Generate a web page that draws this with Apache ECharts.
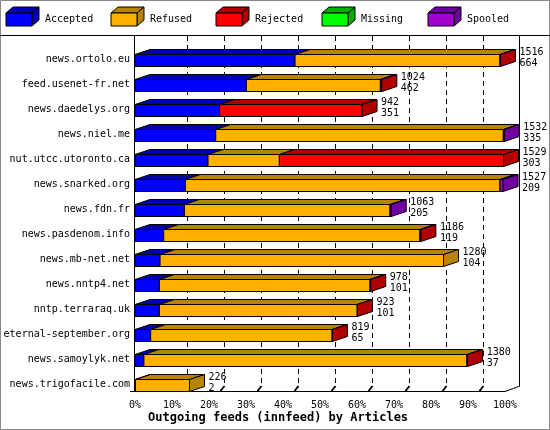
<!DOCTYPE html>
<html><head><meta charset="utf-8">
<script src="https://cdn.jsdelivr.net/npm/echarts@6/dist/echarts.min.js"></script>
<style>body{margin:0;background:#fff}#c{width:550px;height:430px}</style>
</head><body><div id="c"></div>
<script>
// innfeed outgoing feeds, counts per peer
var hosts = ['news.ortolo.eu','feed.usenet-fr.net','news.daedelys.org','news.niel.me','nut.utcc.utoronto.ca','news.snarked.org','news.fdn.fr','news.pasdenom.info','news.mb-net.net','news.nntp4.net','nntp.terraraq.uk','eternal-september.org','news.samoylyk.net','news.trigofacile.com'];
var offered  = [1516,1024,942,1532,1529,1527,1063,1186,1280,978,923,819,1380,226];
var accepted = [664,462,351,335,303,209,205,119,104,101,101,65,37,2];
var refused  = [850,556,0,1193,296,1305,853,1063,1176,874,821,753,1340,224];
var rejected = [2,6,591,0,930,0,0,4,0,3,1,1,3,0];
var missing  = [0,0,0,0,0,0,0,0,0,0,0,0,0,0];
var spooled  = [0,0,0,4,0,13,5,0,0,0,0,0,0,0];
var tickLabels = ['0%','10%','20%','30%','40%','50%','60%','70%','80%','90%','100%'];

var names = ['Accepted','Refused','Rejected','Missing','Spooled'];
var front = ['#0000ff','#ffb000','#ff0000','#00ff00','#a000d0'];
var dark  = ['#0000b0','#b88400','#b00000','#00b000','#7000a0'];
var segs = [accepted, refused, rejected, missing, spooled];
var MAX = 1535, DX = 15, DY = 5, FONT = '"DejaVu Sans Mono", monospace';

function renderItem(params, api) {
    var s = api.value(0), e = api.value(1), ci = params.seriesIndex;
    if (e <= s) return null;
    var p0 = api.coord([s, api.value(2)]), p1 = api.coord([e, api.value(2)]);
    var x0 = p0[0], x1 = p1[0], yt = Math.round(p0[1]) + 1.5, yb = yt + 12;
    var st = {stroke: '#000', lineWidth: 1};
    var kids = [
        {type: 'polygon', shape: {points: [[x0, yt], [x0 + DX, yt - DY], [x1 + DX, yt - DY], [x1, yt]]}, style: Object.assign({fill: dark[ci]}, st)},
        {type: 'rect', shape: {x: x0, y: yt, width: x1 - x0, height: yb - yt}, style: Object.assign({fill: front[ci]}, st)}
    ];
    if (api.value(3)) {
        kids.push({type: 'polygon', shape: {points: [[x1, yt], [x1 + DX, yt - DY], [x1 + DX, yb - DY], [x1, yb]]}, style: Object.assign({fill: dark[ci]}, st)});
        kids.push({type: 'text', x: x1 + DX + 4, y: yt - DY - 3, style: {text: api.value(4) + '\n' + api.value(5), font: '10px ' + FONT, fill: '#000', lineHeight: 11.5}});
    }
    return {type: 'group', children: kids};
}

var series = segs.map(function (arr, k) {
    var data = hosts.map(function (h, i) {
        var start = 0;
        for (var j = 0; j < k; j++) start += segs[j][i];
        var last = 0;
        for (j = segs.length - 1; j >= 0; j--) if (segs[j][i] > 0) { last = j; break; }
        return [start, start + arr[i], i, last === k ? 1 : 0, offered[i], accepted[i]];
    });
    return {type: 'custom', name: names[k], renderItem: renderItem, encode: {x: [0, 1], y: 2}, data: data, clip: false};
});

var chart = echarts.init(document.getElementById('c'));
chart.setOption({
    animation: false,
    backgroundColor: '#fff',
    grid: {left: 135, right: 45, top: 40, height: 350, outerBoundsMode: 'none', containLabel: false},
    xAxis: {type: 'value', min: 0, max: MAX, interval: MAX / 10,
        axisLine: {show: false}, axisTick: {show: false}, splitLine: {show: false},
        axisLabel: {margin: 10, color: '#000', fontFamily: FONT, fontSize: 10,
            formatter: function (v) { return tickLabels[Math.round(v / MAX * 10)]; }}},
    yAxis: {type: 'category', data: hosts, inverse: true,
        axisLine: {show: false}, axisTick: {show: false}, axisLabel: {show: false}},
    series: series
});

// frame, gridlines, category labels, legend
var g = [];
var L = {stroke: '#000', lineWidth: 1};
g.push({type: 'rect', shape: {x: 0.5, y: 0.5, width: 549, height: 429}, style: {fill: 'none', stroke: '#888'}});
g.push({type: 'line', shape: {x1: 0, y1: 35.5, x2: 550, y2: 35.5}, style: L});
g.push({type: 'line', shape: {x1: 134.5, y1: 35, x2: 134.5, y2: 392}, style: L});
g.push({type: 'line', shape: {x1: 519.5, y1: 35, x2: 519.5, y2: 386}, style: L});
g.push({type: 'line', shape: {x1: 130, y1: 391.5, x2: 505, y2: 391.5}, style: L});
g.push({type: 'line', shape: {x1: 505, y1: 391.5, x2: 520, y2: 386}, style: L});
for (var i = 1; i < 10; i++) {
    var x = Math.round(chart.convertToPixel({xAxisIndex: 0}, i * MAX / 10)) + DX + 0.5;
    g.push({type: 'line', shape: {x1: x, y1: 36, x2: x, y2: 386}, style: {stroke: '#000', lineDash: [5, 4]}, z: -1});
    g.push({type: 'line', shape: {x1: x - 4, y1: 391, x2: x, y2: 386}, style: {stroke: '#000', lineWidth: 2}});
}
hosts.forEach(function (h, i) {
    var y = chart.convertToPixel({yAxisIndex: 0}, i) + 7;
    g.push({type: 'text', x: 130, y: y, style: {text: h, font: '10px ' + FONT, fill: '#000', align: 'right', verticalAlign: 'middle'}});
});
g.push({type: 'text', x: 148, y: 412, style: {text: 'Outgoing feeds (innfeed) by Articles', font: 'bold 12px ' + FONT, fill: '#000'}});
var lx = [6, 111, 216, 322, 428];
names.forEach(function (n, k) {
    var x = lx[k], yt = 13, w = 26, h = 13;
    g.push({type: 'polygon', shape: {points: [[x, yt], [x + 7, yt - 6], [x + w + 7, yt - 6], [x + w, yt]]}, style: {fill: dark[k], stroke: '#000'}});
    g.push({type: 'polygon', shape: {points: [[x + w, yt], [x + w + 7, yt - 6], [x + w + 7, yt + h - 6], [x + w, yt + h]]}, style: {fill: dark[k], stroke: '#000'}});
    g.push({type: 'rect', shape: {x: x, y: yt, width: w, height: h}, style: {fill: front[k], stroke: '#000'}});
    g.push({type: 'text', x: x + 39, y: yt + 1, style: {text: n, font: '10px ' + FONT, fill: '#000'}});
});
chart.setOption({graphic: g});
</script></body></html>
